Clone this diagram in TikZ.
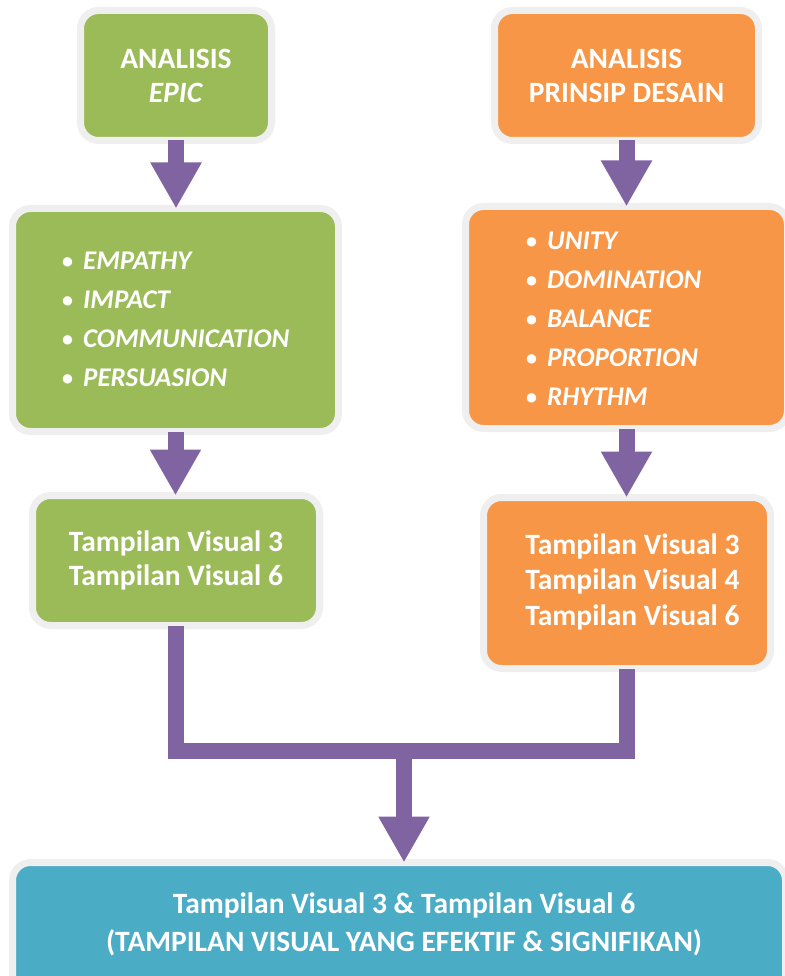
\documentclass[tikz,border=0pt]{standalone}
\usepackage{fontspec}
\setmainfont{Carlito}
\usetikzlibrary{arrows.meta}
\definecolor{cgreen}{HTML}{9BBB59}
\definecolor{corange}{HTML}{F79646}
\definecolor{cteal}{HTML}{4BACC6}
\definecolor{cpurple}{HTML}{8064A2}
\definecolor{cborder}{HTML}{EFEFEF}
\tikzset{
  box/.style={draw=cborder, line width=7pt, rounded corners=18pt, inner sep=0pt,
    text=white, font=\bfseries\fontsize{29.5}{34}\selectfont, align=center},
  lbl/.style={text=white, inner sep=0pt, font=\bfseries\fontsize{29.5}{35.5}\selectfont, align=center},
  listtxt/.style={text=white, inner sep=0pt, anchor=west, align=left,
    font=\bfseries\fontsize{27}{39}\selectfont},
  arr/.style={draw=cpurple, line width=16pt, -{Triangle[width=48pt,length=46pt]}},
  pipe/.style={draw=cpurple, line width=16pt, line join=miter}
}
\newcommand\bul[1]{\makebox[21pt][l]{\raisebox{1.5pt}{\fontsize{22}{22}\selectfont •}}\textit{#1}}
\begin{document}
\begin{tikzpicture}[x=1pt,y=-1pt]
\useasboundingbox (0,0) rectangle (784,976);
% boxes
\node[box, fill=cgreen, minimum width=191pt, minimum height=130pt] (g1) at (176,75.5) {ANALISIS\\\textit{EPIC}};
\node[box, fill=cgreen, minimum width=326pt, minimum height=223pt] (g2) at (175.5,320) {};
\node[box, fill=cgreen, minimum width=287pt, minimum height=130pt] (g3) at (176,560.5) {Tampilan Visual 3\\Tampilan Visual 6};
\node[box, fill=corange, minimum width=264pt, minimum height=130pt] (o1) at (626.5,75.5) {ANALISIS\\PRINSIP DESAIN};
\node[box, fill=corange, minimum width=322pt, minimum height=222pt] (o2) at (626.5,317.5) {};
\node[box, fill=corange, minimum width=287pt, minimum height=171pt] (o3) at (627,583) {};
\node[box, fill=cteal, minimum width=773pt, minimum height=131pt] (t) at (399,928) {};
% texts
\node[listtxt] (g2t) at (62,319.5) {\bul{EMPATHY}\\\bul{IMPACT}\\\bul{COMMUNICATION}\\\bul{PERSUASION}};
\node[listtxt] (o2t) at (526,319) {\bul{UNITY}\\\bul{DOMINATION}\\\bul{BALANCE}\\\bul{PROPORTION}\\\bul{RHYTHM}};
\node[lbl] (o3t) at (632.5,581.5) {Tampilan Visual 3\\Tampilan Visual 4\\Tampilan Visual 6};
\node[lbl, font=\bfseries\fontsize{29.5}{38}\selectfont] (tt) at (404,924) {Tampilan Visual 3 \& Tampilan Visual 6\\(TAMPILAN VISUAL YANG EFEKTIF \& SIGNIFIKAN)};
% arrows
\draw[arr] ([yshift=3.5pt]g1.south) -- ([yshift=-3.5pt]g1.south |- g2.north);
\draw[arr] ([yshift=3.5pt]g2.south) -- ([yshift=-3.5pt]g2.south |- g3.north);
\draw[arr] ([yshift=3.5pt]o1.south) -- ([yshift=-3.5pt]o1.south |- o2.north);
\draw[arr] ([yshift=3.5pt]o2.south) -- ([yshift=-3.5pt]o2.south |- o3.north);
\coordinate (bar) at (404,750.5);
\draw[pipe] ([yshift=3.5pt]g3.south) -- (g3.south |- bar) -- (o3.south |- bar) -- ([yshift=3.5pt]o3.south);
\draw[arr] (bar) -- ([yshift=-3.5pt]bar |- t.north);
\end{tikzpicture}
\end{document}
